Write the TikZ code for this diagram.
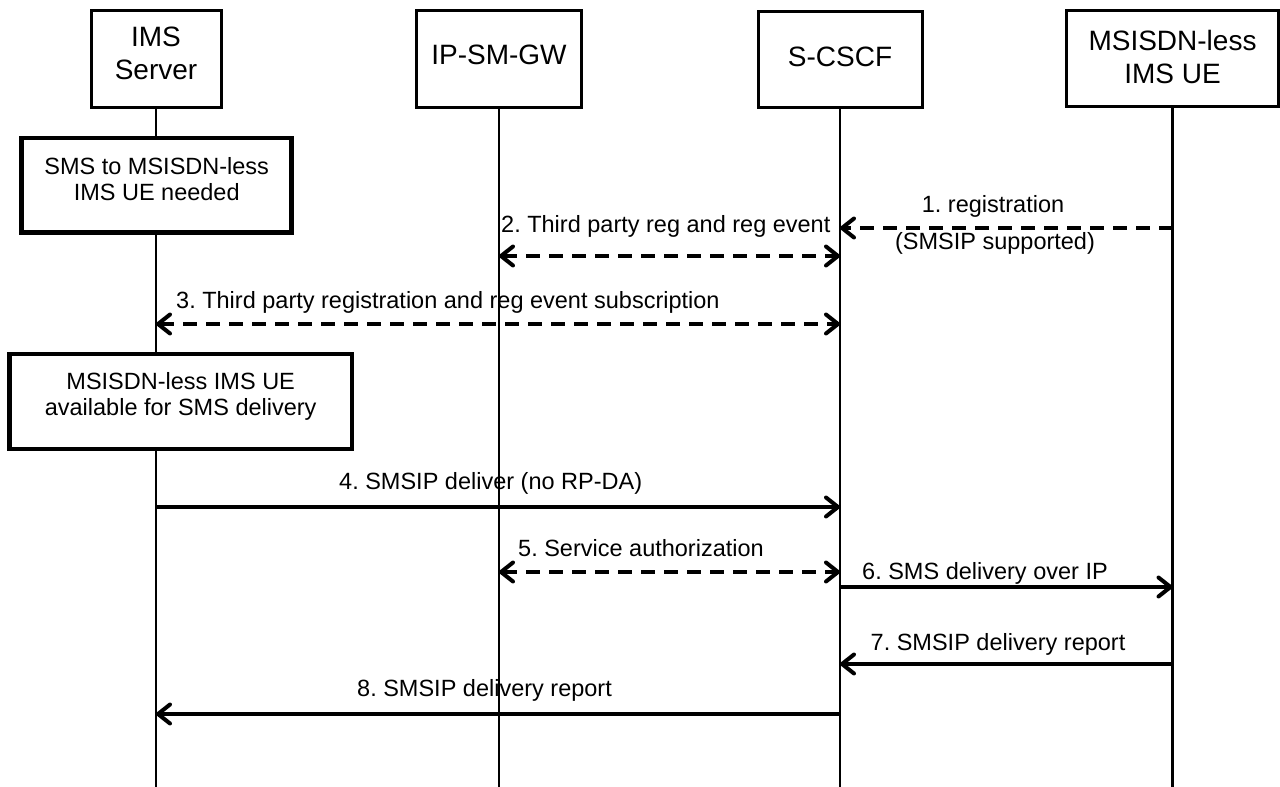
\documentclass[tikz,border=0pt]{standalone}
\usepackage{fontspec}
\setmainfont{Liberation Sans}
\usetikzlibrary{arrows.meta}
\frenchspacing
% zero-width rule that adds depth below the last text line (lifts the text block)
\newcommand{\liftby}[1]{\rule[-#1]{0pt}{0pt}}
\begin{document}
\begin{tikzpicture}[x=1pt,y=-1pt,
  entity/.style={draw, line width=3pt, fill=white, align=center, inner sep=0pt,
    font=\fontsize{28}{33}\selectfont},
  note/.style={draw, line width=4.7pt, fill=white, align=center, inner sep=0pt,
    font=\fontsize{23.5}{26}\selectfont},
  life/.style={line width=2.8pt},
  barb/.style={Straight Barb[length=12pt,width=19pt,round]},
  msg/.style={line width=4pt, -{Straight Barb[length=12pt,width=19pt,round]}},
  dboth/.style={line width=4pt, dash pattern=on 14pt off 9pt,
    {Straight Barb[length=12pt,width=19pt,round]}-{Straight Barb[length=12pt,width=19pt,round]}},
  dmsg/.style={msg, dash pattern=on 14pt off 9pt},
  lbl/.style={inner sep=0pt, font=\fontsize{23.5}{26}\selectfont},
]
\useasboundingbox (0,0) rectangle (1280,787);

% entities
\node[entity, minimum width=130pt, minimum height=97pt] (ims)  at (156,58.5) {IMS\\Server\liftby{10pt}};
\node[entity, minimum width=165pt, minimum height=97pt] (gw)   at (499,58.5) {IP-SM-GW\liftby{7pt}};
\node[entity, minimum width=164pt, minimum height=96pt] (cscf) at (840,59.5) {S-CSCF\liftby{6pt}};
\node[entity, minimum width=212pt, minimum height=96pt] (ue)   at (1172.5,58.5) {MSISDN-less\\IMS UE\liftby{3pt}};

% lifelines
\coordinate (imsEnd)  at (ims.south |- 0,787);
\coordinate (gwEnd)   at (gw.south |- 0,787);
\coordinate (cscfEnd) at (cscf.south |- 0,787);
\coordinate (ueEnd)   at (ue.south |- 0,787);
\draw[life] (ims.south)  -- (imsEnd);
\draw[life] (gw.south)   -- (gwEnd);
\draw[life] (cscf.south) -- (cscfEnd);
\draw[life] (ue.south)   -- (ueEnd);

% state notes on the IMS Server lifeline
\node[note, minimum width=270pt, minimum height=94.5pt] (needed) at (156.7,185.3)
  {SMS to MSISDN-less\\IMS UE needed\liftby{12pt}};
\node[note, minimum width=342.5pt, minimum height=95pt] (avail) at (180.7,401.5)
  {MSISDN-less IMS UE\\available for SMS delivery\liftby{16pt}};

% 1. registration
\draw[dmsg] (ue |- 0,228) -- (cscf |- 0,228);
\node[lbl, anchor=base] (m1a) at (993,212) {1. registration};
\node[lbl, anchor=base] (m1b) at (995,249.5) {(SMSIP supported)};

% 2. third party registration towards IP-SM-GW
\draw[dboth] (gw |- 0,256) -- (cscf |- 0,256);
\node[lbl, anchor=base west] (m2) at (501,232) {2. Third party reg and reg event};

% 3. third party registration towards IMS Server
\draw[dboth] (ims |- 0,324) -- (cscf |- 0,324);
\node[lbl, anchor=base west] (m3) at (176,308) {3. Third party registration and reg event subscription};

% 4. SMSIP deliver
\draw[msg] (ims |- 0,507) -- (cscf |- 0,507);
\node[lbl, anchor=base west] (m4) at (339,489) {4. SMSIP deliver (no RP-DA)};

% 5. service authorization
\draw[dboth] (gw |- 0,572) -- (cscf |- 0,572);
\node[lbl, anchor=base west] (m5) at (518,556) {5. Service authorization};

% 6. SMS delivery over IP
\draw[msg] (cscf |- 0,587) -- (ue |- 0,587);
\node[lbl, anchor=base west] (m6) at (862,579) {6. SMS delivery over IP};

% 7. delivery report from UE
\draw[msg] (ue |- 0,664) -- (cscf |- 0,664);
\node[lbl, anchor=base west] (m7) at (870.5,650) {7. SMSIP delivery report};

% 8. delivery report to IMS Server
\draw[msg] (cscf |- 0,714) -- (ims |- 0,714);
\node[lbl, anchor=base west] (m8) at (357,696) {8. SMSIP delivery report};
\end{tikzpicture}
\end{document}
